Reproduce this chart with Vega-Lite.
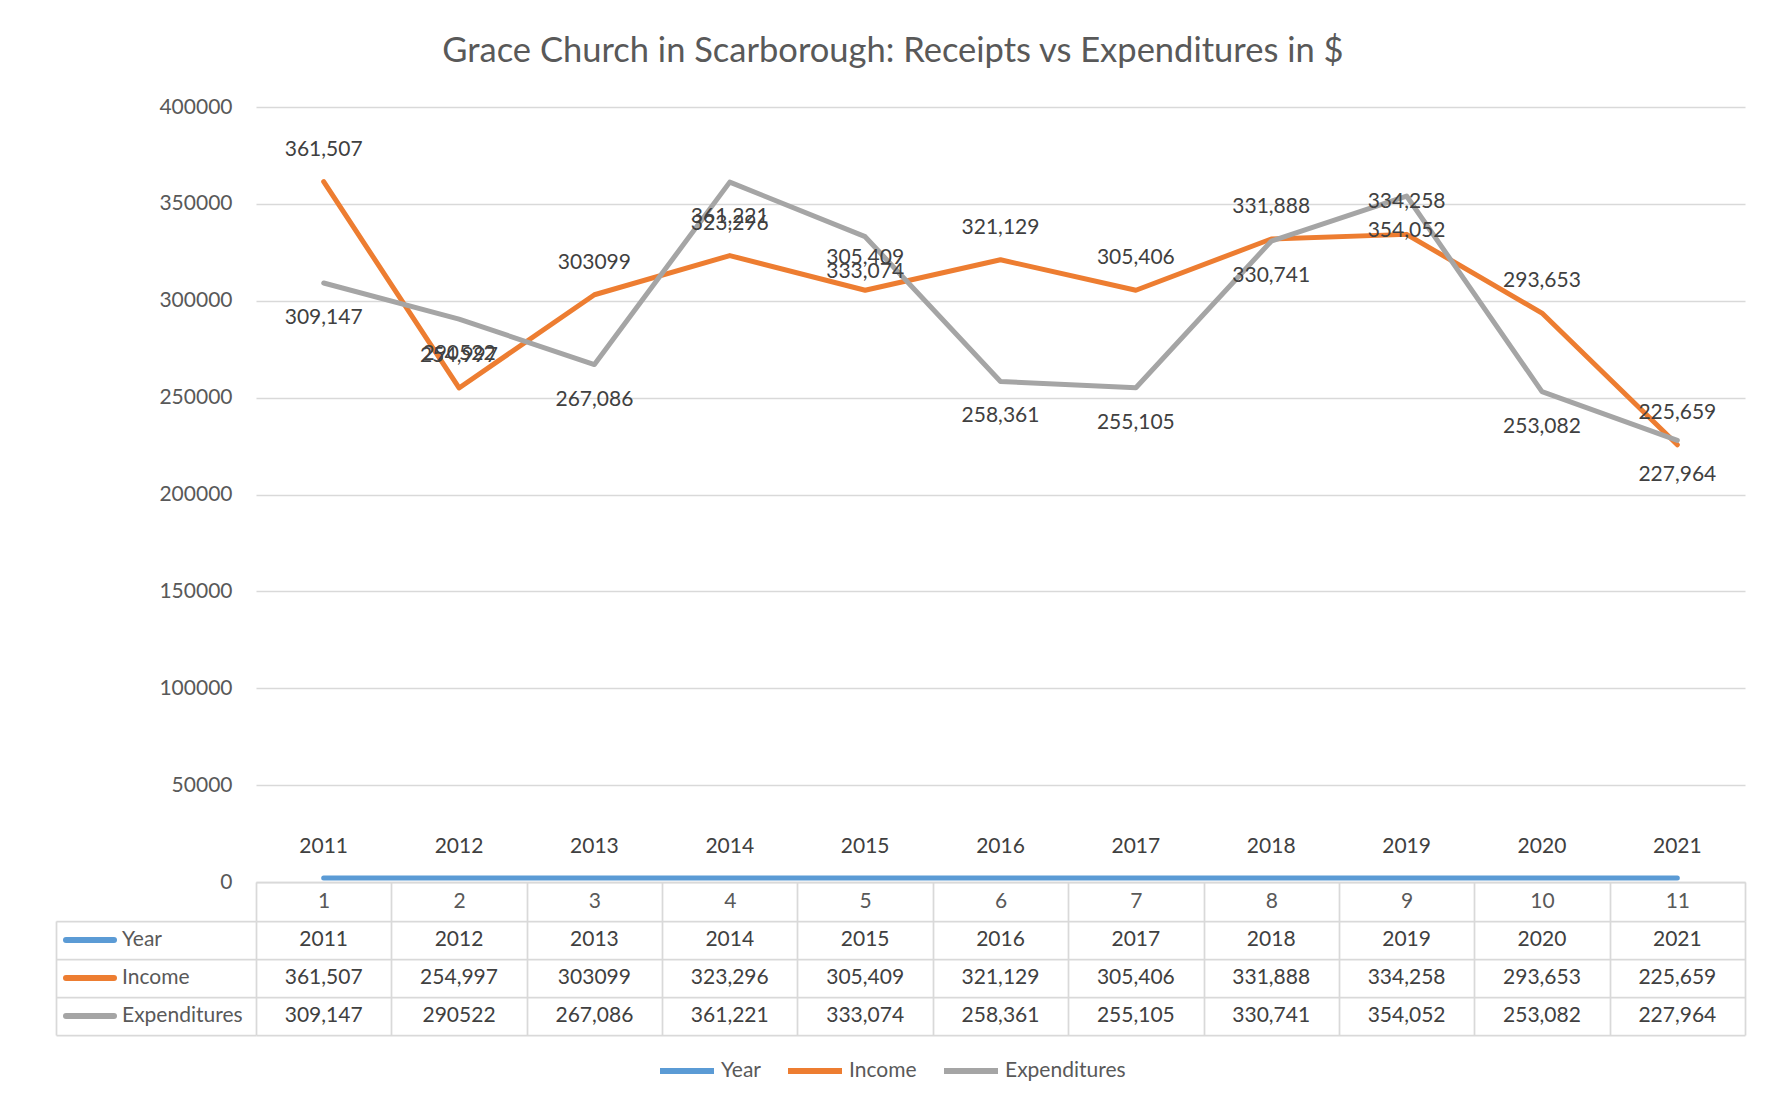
{
  "$schema": "https://vega.github.io/schema/vega-lite/v6.json",
  "padding": {"left": 56, "top": 33, "right": 10, "bottom": 10},
  "background": "white",
  "title": {"text": "Grace Church in Scarborough: Receipts vs Expenditures in $", "fontSize": 34.5, "fontWeight": "normal", "font": "Lato", "color": "#595959", "anchor": "middle", "offset": 27, "dx": -8},
  "config": {
    "font": "Lato",
    "view": {"stroke": null},
    "axis": {"labelFont": "Lato", "labelFontSize": 21, "labelColor": "#595959", "gridColor": "#D9D9D9", "domainColor": "#D9D9D9", "tickColor": "#D9D9D9"},
    "legend": {"labelFont": "Lato", "labelFontSize": 21, "labelColor": "#595959"}
  },
  "datasets": {
    "vals": [
      {"n": "1", "series": "Year", "value": 2011, "label": "2011"},
      {"n": "2", "series": "Year", "value": 2012, "label": "2012"},
      {"n": "3", "series": "Year", "value": 2013, "label": "2013"},
      {"n": "4", "series": "Year", "value": 2014, "label": "2014"},
      {"n": "5", "series": "Year", "value": 2015, "label": "2015"},
      {"n": "6", "series": "Year", "value": 2016, "label": "2016"},
      {"n": "7", "series": "Year", "value": 2017, "label": "2017"},
      {"n": "8", "series": "Year", "value": 2018, "label": "2018"},
      {"n": "9", "series": "Year", "value": 2019, "label": "2019"},
      {"n": "10", "series": "Year", "value": 2020, "label": "2020"},
      {"n": "11", "series": "Year", "value": 2021, "label": "2021"},
      {"n": "1", "series": "Income", "value": 361507, "label": "361,507"},
      {"n": "2", "series": "Income", "value": 254997, "label": "254,997"},
      {"n": "3", "series": "Income", "value": 303099, "label": "303099"},
      {"n": "4", "series": "Income", "value": 323296, "label": "323,296"},
      {"n": "5", "series": "Income", "value": 305409, "label": "305,409"},
      {"n": "6", "series": "Income", "value": 321129, "label": "321,129"},
      {"n": "7", "series": "Income", "value": 305406, "label": "305,406"},
      {"n": "8", "series": "Income", "value": 331888, "label": "331,888"},
      {"n": "9", "series": "Income", "value": 334258, "label": "334,258"},
      {"n": "10", "series": "Income", "value": 293653, "label": "293,653"},
      {"n": "11", "series": "Income", "value": 225659, "label": "225,659"},
      {"n": "1", "series": "Expenditures", "value": 309147, "label": "309,147"},
      {"n": "2", "series": "Expenditures", "value": 290522, "label": "290522"},
      {"n": "3", "series": "Expenditures", "value": 267086, "label": "267,086"},
      {"n": "4", "series": "Expenditures", "value": 361221, "label": "361,221"},
      {"n": "5", "series": "Expenditures", "value": 333074, "label": "333,074"},
      {"n": "6", "series": "Expenditures", "value": 258361, "label": "258,361"},
      {"n": "7", "series": "Expenditures", "value": 255105, "label": "255,105"},
      {"n": "8", "series": "Expenditures", "value": 330741, "label": "330,741"},
      {"n": "9", "series": "Expenditures", "value": 354052, "label": "354,052"},
      {"n": "10", "series": "Expenditures", "value": 253082, "label": "253,082"},
      {"n": "11", "series": "Expenditures", "value": 227964, "label": "227,964"}
    ],
    "hdr": [
      {"series": "Year"},
      {"series": "Income"},
      {"series": "Expenditures"}
    ]
  },
  "columns": 2,
  "bounds": "flush",
  "align": "each",
  "spacing": {"row": 39, "column": 0},
  "concat": [
    {
      "width": 200,
      "height": 775,
      "data": {"values": [{}]},
      "mark": {"type": "text", "text": ""}
    },
    {
      "width": 1489,
      "height": 775,
      "data": {"name": "vals"},
      "encoding": {
        "x": {"field": "n", "type": "nominal", "bandPosition": 0.5,
          "scale": {"type": "band", "domain": ["1","2","3","4","5","6","7","8","9","10","11"], "paddingInner": 0, "paddingOuter": 0},
          "axis": {"title": null, "labelAngle": 0, "tickBand": "extent", "tickSize": 39, "tickWidth": 1.75, "domainWidth": 1.75, "labelPadding": -19.5, "labelBaseline": "middle", "labelColor": "#595959"}},
        "y": {"field": "value", "type": "quantitative",
          "scale": {"domain": [0, 400000], "nice": false, "zero": true},
          "axis": {"title": null, "values": [0, 50000, 100000, 150000, 200000, 250000, 300000, 350000, 400000], "format": "d", "grid": true, "gridWidth": 1.5, "domain": false, "ticks": false, "labelPadding": 24}}
      },
      "layer": [
        {
          "mark": {"type": "line", "strokeWidth": 5, "strokeCap": "round", "strokeJoin": "round"},
          "encoding": {
            "color": {"field": "series", "type": "nominal",
              "scale": {"domain": ["Year", "Income", "Expenditures"], "range": ["#5B9BD5", "#ED7D31", "#A5A5A5"]},
              "legend": {"title": null, "orient": "none", "legendX": 601, "legendY": 934, "direction": "horizontal", "symbolType": "stroke", "symbolSize": 2916, "symbolStrokeWidth": 6, "labelOffset": 4, "columnPadding": 15}}
          }
        },
        {
          "transform": [{"filter": "datum.series === 'Year'"}],
          "mark": {"type": "text", "dy": -31, "fontSize": 21, "color": "#404040"},
          "encoding": {"text": {"field": "label"}}
        },
        {
          "transform": [{"filter": "datum.series === 'Income'"}],
          "mark": {"type": "text", "dy": -32, "fontSize": 21, "color": "#404040"},
          "encoding": {"text": {"field": "label"}}
        },
        {
          "transform": [{"filter": "datum.series === 'Expenditures'"}],
          "mark": {"type": "text", "dy": 35, "fontSize": 21, "color": "#404040"},
          "encoding": {"text": {"field": "label"}}
        }
      ]
    },
    {
      "width": 200,
      "height": 114,
      "data": {"name": "hdr"},
      "encoding": {
        "y": {"field": "series", "type": "nominal",
          "scale": {"type": "band", "domain": ["Year", "Income", "Expenditures"], "paddingInner": 0, "paddingOuter": 0},
          "axis": {"title": null, "grid": true, "gridWidth": 1.75, "tickBand": "extent", "labels": false, "ticks": false, "domain": true, "domainWidth": 1.75}}
      },
      "layer": [
        {
          "mark": {"type": "rule", "strokeWidth": 6, "strokeCap": "round"},
          "encoding": {
            "x": {"datum": 0.05, "type": "quantitative", "scale": {"domain": [0, 1], "nice": false}, "axis": null},
            "x2": {"datum": 0.29},
            "color": {"field": "series", "type": "nominal",
              "scale": {"domain": ["Year", "Income", "Expenditures"], "range": ["#5B9BD5", "#ED7D31", "#A5A5A5"]},
              "legend": {"title": null, "orient": "none", "legendX": 601, "legendY": 934, "direction": "horizontal", "symbolType": "stroke", "symbolSize": 2916, "symbolStrokeWidth": 6, "labelOffset": 4, "columnPadding": 15}}
          }
        },
        {
          "mark": {"type": "text", "align": "left", "baseline": "middle", "fontSize": 21, "color": "#595959"},
          "encoding": {
            "x": {"datum": 0.33, "type": "quantitative"},
            "text": {"field": "series"}
          }
        }
      ]
    },
    {
      "width": 1489,
      "height": 114,
      "data": {"name": "vals"},
      "mark": {"type": "text", "fontSize": 21, "color": "#404040", "baseline": "middle"},
      "encoding": {
        "x": {"field": "n", "type": "nominal", "bandPosition": 0.5,
          "scale": {"type": "band", "domain": ["1","2","3","4","5","6","7","8","9","10","11"], "paddingInner": 0, "paddingOuter": 0},
          "axis": {"title": null, "grid": true, "gridWidth": 1.75, "tickBand": "extent", "labels": false, "ticks": false, "domain": false}},
        "y": {"field": "series", "type": "nominal",
          "scale": {"type": "band", "domain": ["Year", "Income", "Expenditures"], "paddingInner": 0, "paddingOuter": 0},
          "axis": {"title": null, "grid": true, "gridWidth": 1.75, "tickBand": "extent", "labels": false, "ticks": false, "domain": false}},
        "text": {"field": "label"}
      }
    }
  ]
}
